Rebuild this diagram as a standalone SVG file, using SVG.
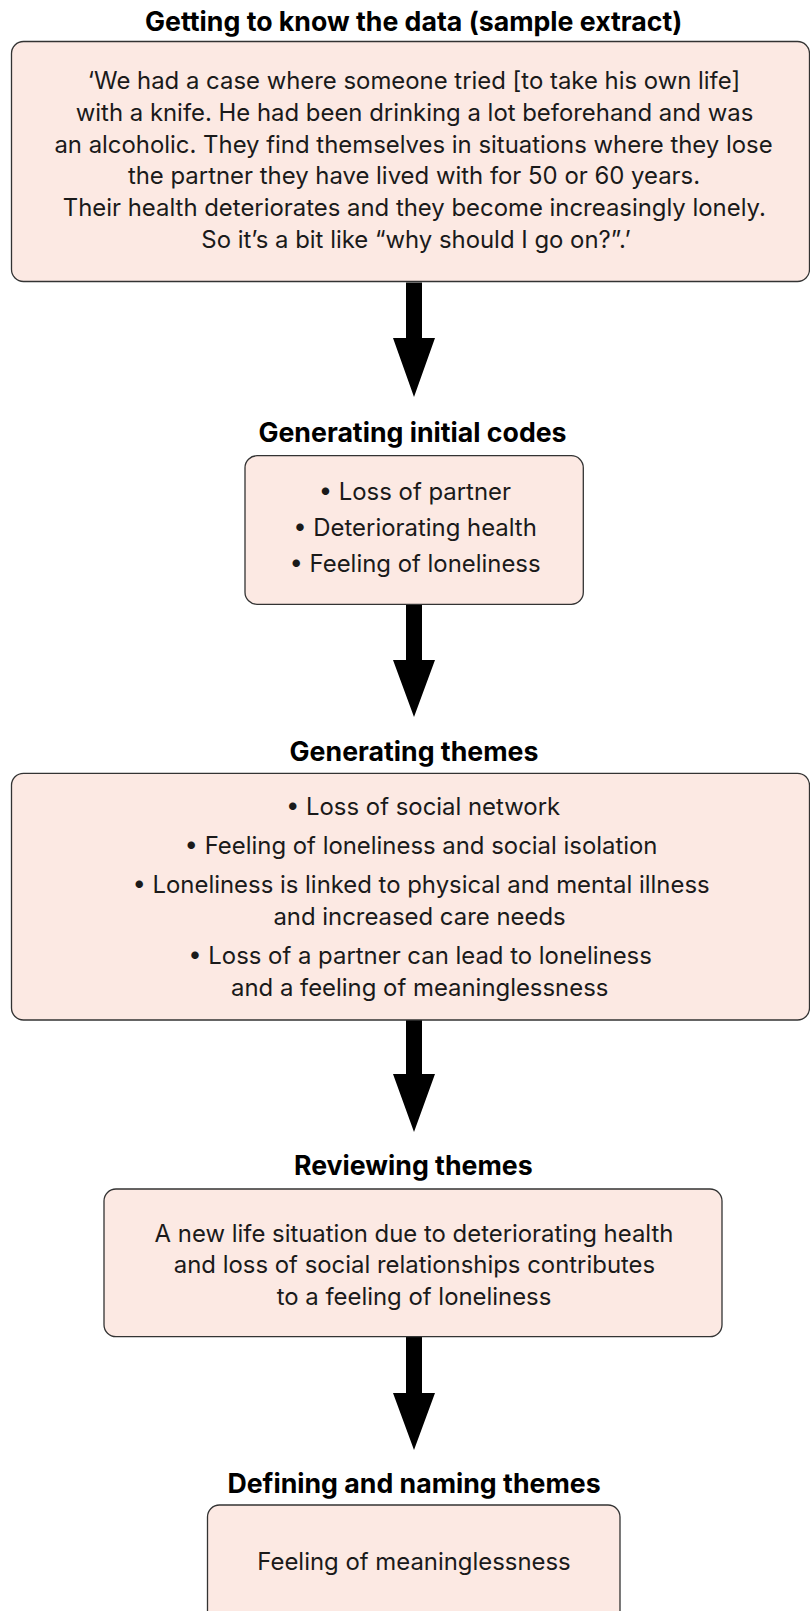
<svg xmlns="http://www.w3.org/2000/svg" width="810" height="1611" viewBox="0 0 810 1611">
<style>
.box{fill:#fce9e3;stroke:#333333;stroke-width:1.3}
.title{font-family:Inter,"Liberation Sans",sans-serif;font-weight:bold;font-size:26.7px;fill:#000;text-anchor:middle}
.body{font-family:Inter,"Liberation Sans",sans-serif;font-size:23.9px;fill:#1a1a1a;text-anchor:middle}
.arrow{fill:#000}
</style>
<rect width="810" height="1611" fill="#ffffff"/>
<g id="connectors">
<polygon class="arrow" points="406,282.5 422,282.5 422,338 435,338 414,397 393,338 406,338"/>
<polygon class="arrow" points="406,604.5 422,604.5 422,660 435,660 414,717 393,660 406,660"/>
<polygon class="arrow" points="406,1020 422,1020 422,1074 435,1074 414,1132 393,1074 406,1074"/>
<polygon class="arrow" points="406,1337 422,1337 422,1393 435,1393 414,1450 393,1393 406,1393"/>
</g>
<g id="node1">
<text class="title" x="413.7" y="30.5">Getting to know the data (sample extract)</text>
<rect class="box" x="11.5" y="41.5" width="798" height="240" rx="12"/>
<text class="body" x="414" y="89">‘We had a case where someone tried [to take his own life]</text>
<text class="body" x="414.5" y="120.8">with a knife. He had been drinking a lot beforehand and was</text>
<text class="body" x="413.5" y="152.6">an alcoholic. They find themselves in situations where they lose</text>
<text class="body" x="414" y="184.4">the partner they have lived with for 50 or 60 years.</text>
<text class="body" x="414.3" y="216.2">Their health deteriorates and they become increasingly lonely.</text>
<text class="body" x="416" y="248">So it’s a bit like “why should I go on?”.’</text>
</g>
<g id="node2">
<text class="title" x="412.5" y="442.2">Generating initial codes</text>
<rect class="box" x="245" y="455.7" width="338.3" height="148.6" rx="12"/>
<text class="body" x="414.8" y="499.7">• Loss of partner</text>
<text class="body" x="415" y="536">• Deteriorating health</text>
<text class="body" x="415" y="572.4">• Feeling of loneliness</text>
</g>
<g id="node3">
<text class="title" x="414" y="760.5">Generating themes</text>
<rect class="box" x="11.5" y="773.3" width="798" height="246.7" rx="12"/>
<text class="body" x="423" y="815">• Loss of social network</text>
<text class="body" x="421" y="853.7">• Feeling of loneliness and social isolation</text>
<text class="body" x="421" y="892.7">• Loneliness is linked to physical and mental illness</text>
<text class="body" x="419.5" y="925.3">and increased care needs</text>
<text class="body" x="420" y="964.3">• Loss of a partner can lead to loneliness</text>
<text class="body" x="419.7" y="996">and a feeling of meaninglessness</text>
</g>
<g id="node4">
<text class="title" x="413.3" y="1174.5">Reviewing themes</text>
<rect class="box" x="104" y="1189" width="618" height="147.7" rx="12"/>
<text class="body" x="414" y="1241.6">A new life situation due to deteriorating health</text>
<text class="body" x="414.5" y="1273.2">and loss of social relationships contributes</text>
<text class="body" x="414" y="1304.8">to a feeling of loneliness</text>
</g>
<g id="node5">
<text class="title" x="414" y="1493.2">Defining and naming themes</text>
<rect class="box" x="207.5" y="1505" width="412.5" height="130" rx="12"/>
<text class="body" x="414" y="1570">Feeling of meaninglessness</text>
</g>
</svg>
